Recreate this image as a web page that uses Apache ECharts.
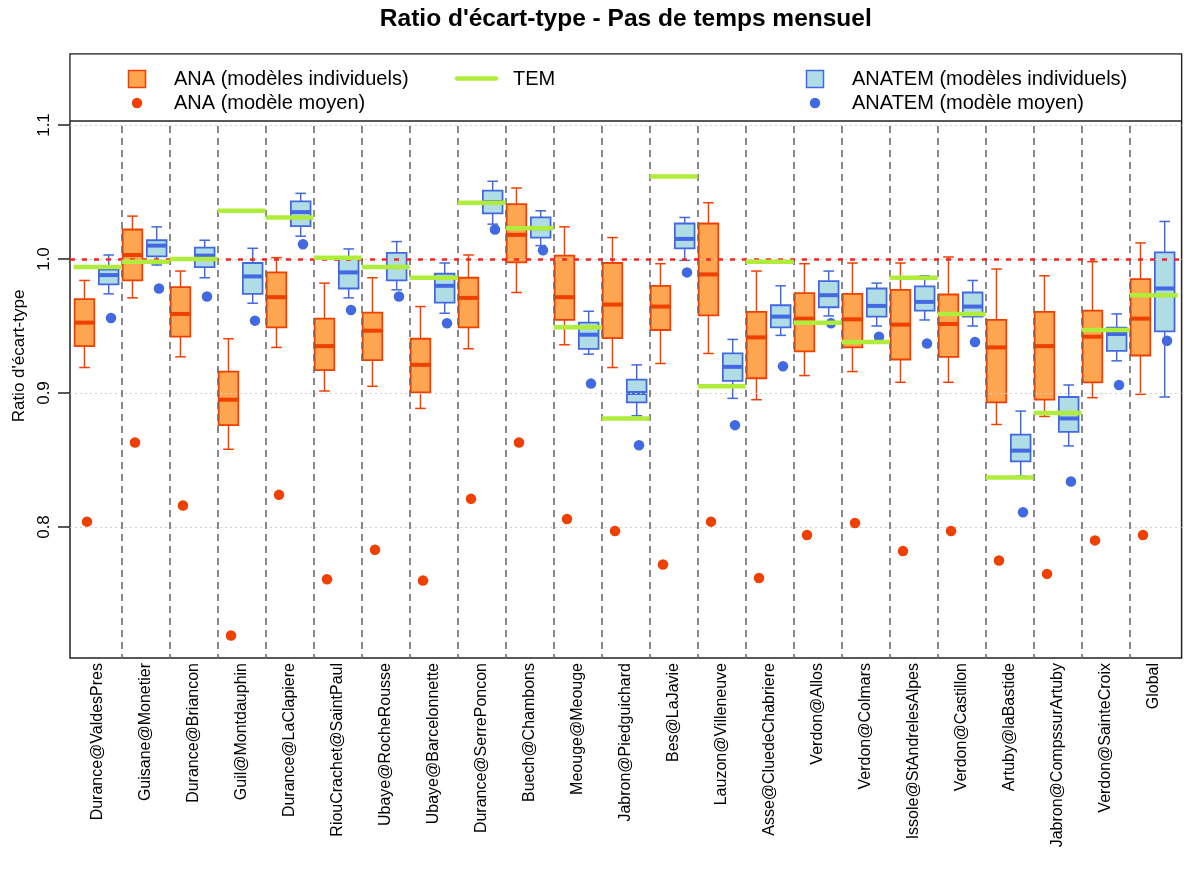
<!DOCTYPE html>
<html><head><meta charset="utf-8">
<script src="https://cdn.jsdelivr.net/npm/echarts@6/dist/echarts.min.js"></script>
<style>html,body{margin:0;padding:0;background:#fff}#chart{width:1184px;height:876px}</style>
</head><body><div id="chart"></div>
<script>
const categories = ["Durance@ValdesPres","Guisane@Monetier","Durance@Briancon","Guil@Montdauphin","Durance@LaClapiere","RiouCrachet@SaintPaul","Ubaye@RocheRousse","Ubaye@Barcelonnette","Durance@SerrePoncon","Buech@Chambons","Meouge@Meouge","Jabron@Piedguichard","Bes@LaJavie","Lauzon@Villeneuve","Asse@CluedeChabriere","Verdon@Allos","Verdon@Colmars","Issole@StAndrelesAlpes","Verdon@Castillon","Artuby@laBastide","Jabron@CompssurArtuby","Verdon@SainteCroix","Global"];

// ANA (modèles individuels) : min, Q1, médiane, Q3, max
const anaMin = [0.919,0.971,0.927,0.858,0.934,0.9015,0.905,0.8885,0.933,0.975,0.936,0.919,0.922,0.9295,0.895,0.913,0.916,0.908,0.908,0.8765,0.8825,0.8965,0.899];
const anaQ1  = [0.935,0.984,0.942,0.876,0.949,0.917,0.9245,0.9005,0.949,0.9975,0.9545,0.941,0.947,0.958,0.911,0.931,0.934,0.925,0.927,0.893,0.895,0.908,0.928];
const anaMed = [0.9525,1.003,0.959,0.895,0.9715,0.935,0.9465,0.921,0.971,1.018,0.9715,0.966,0.9645,0.9885,0.9415,0.9555,0.955,0.951,0.9515,0.934,0.935,0.942,0.9555];
const anaQ3  = [0.970,1.022,0.979,0.916,0.990,0.9555,0.960,0.9405,0.986,1.041,1.0025,0.997,0.980,1.0265,0.9605,0.9745,0.974,0.977,0.9735,0.9545,0.9605,0.9615,0.985];
const anaMax = [0.984,1.032,0.991,0.9405,1.001,0.982,0.986,0.9645,1.003,1.053,1.024,1.016,0.9965,1.042,0.991,0.9965,0.997,0.997,1.0015,0.9925,0.9875,0.998,1.012];

// ANATEM (modèles individuels)
const anatemMin = [0.974,0.9955,0.986,0.967,1.017,0.971,0.977,0.9595,1.026,1.010,0.929,0.883,0.999,0.896,0.943,0.9575,0.950,0.9545,0.950,0.838,0.8605,0.924,0.897];
const anatemQ1  = [0.981,1.002,0.994,0.974,1.0245,0.978,0.984,0.9675,1.034,1.016,0.933,0.893,1.008,0.909,0.949,0.964,0.957,0.9615,0.957,0.849,0.871,0.9315,0.946];
const anatemMed = [0.988,1.010,1.0025,0.987,1.035,0.990,0.994,0.980,1.0425,1.023,0.9435,0.900,1.015,0.9195,0.957,0.973,0.965,0.968,0.9645,0.857,0.881,0.944,0.978];
const anatemQ3  = [0.992,1.014,1.0085,0.997,1.043,1.0015,1.0045,0.989,1.051,1.031,0.9525,0.910,1.0265,0.9295,0.9655,0.9835,0.978,0.9795,0.975,0.869,0.897,0.9488,1.005];
const anatemMax = [1.003,1.024,1.014,1.008,1.049,1.0075,1.013,0.997,1.058,1.036,0.961,0.921,1.031,0.940,0.980,0.991,0.982,0.9875,0.984,0.8865,0.906,0.959,1.028];

// TEM
const temValues = [0.994,0.998,1.000,1.036,1.031,1.001,0.994,0.986,1.042,1.023,0.949,0.881,1.0615,0.905,0.998,0.9525,0.938,0.986,0.959,0.837,0.885,0.947,0.973];

// modèles moyens
const anaMean    = [0.804,0.863,0.816,0.719,0.824,0.761,0.783,0.760,0.821,0.863,0.806,0.797,0.772,0.804,0.762,0.794,0.803,0.782,0.797,0.775,0.765,0.790,0.794];
const anatemMean = [0.956,0.978,0.972,0.954,1.011,0.962,0.972,0.952,1.022,1.0065,0.907,0.861,0.990,0.876,0.920,0.952,0.942,0.937,0.938,0.811,0.834,0.906,0.939];

const yTicks = [0.8, 0.9, 1.0, 1.1];
const refValue = 1.0;

const ORANGE_FILL = '#FFA54F', ORANGE = '#F04000';
const BLUE_FILL = '#B0DCE6', BLUE = '#4169E1';
const GREEN = '#B0EC3A';
const FONT = '"Liberation Sans", Arial, sans-serif';

const BOX_W = 0.41;
const OFF_ANA = -0.275, OFF_ANATEM = 0.229;
const OFF_DOT_ANA = -0.223, OFF_DOT_ANATEM = 0.277;

const pos = categories.map((c, i) => i + 1);
const anaBoxes = pos.map((p, i) => [p, anaMin[i], anaQ1[i], anaMed[i], anaQ3[i], anaMax[i]]);
const anatemBoxes = pos.map((p, i) => [p, anatemMin[i], anatemQ1[i], anatemMed[i], anatemQ3[i], anatemMax[i]]);

function boxRender(offset, fill, stroke) {
  return function (params, api) {
    const x = api.value(0) + offset;
    const pMin = api.coord([x, api.value(1)]);
    const pQ1 = api.coord([x, api.value(2)]);
    const pMed = api.coord([x, api.value(3)]);
    const pQ3 = api.coord([x, api.value(4)]);
    const pMax = api.coord([x, api.value(5)]);
    const w = api.size([BOX_W, 0])[0];
    const cw = w * 0.54;
    const cx = pMed[0];
    const ls = { stroke: stroke, lineWidth: 1.5 };
    return {
      type: 'group',
      children: [
        { type: 'line', shape: { x1: cx, y1: pMax[1], x2: cx, y2: pQ3[1] }, style: ls },
        { type: 'line', shape: { x1: cx, y1: pQ1[1], x2: cx, y2: pMin[1] }, style: ls },
        { type: 'line', shape: { x1: cx - cw / 2, y1: pMax[1], x2: cx + cw / 2, y2: pMax[1] }, style: ls },
        { type: 'line', shape: { x1: cx - cw / 2, y1: pMin[1], x2: cx + cw / 2, y2: pMin[1] }, style: ls },
        { type: 'rect', shape: { x: cx - w / 2, y: pQ3[1], width: w, height: pQ1[1] - pQ3[1] }, style: { fill: fill, stroke: stroke, lineWidth: 1.8 } },
        { type: 'line', shape: { x1: cx - w / 2, y1: pMed[1], x2: cx + w / 2, y2: pMed[1] }, style: { stroke: stroke, lineWidth: 4 } }
      ]
    };
  };
}

function temRender(params, api) {
  const p = api.value(0);
  const a = api.coord([p - 0.5, api.value(1)]);
  const b = api.coord([p + 0.5, api.value(1)]);
  return { type: 'line', shape: { x1: a[0], y1: a[1], x2: b[0], y2: b[1] }, style: { stroke: GREEN, lineWidth: 4.5 } };
}

const chart = echarts.init(document.getElementById('chart'), null, { renderer: 'canvas' });

const GL = 70, GR = 1181.6, GT = 54, GB = 658, LEG_B = 121;
const legendText = (x, y, t) => ({ type: 'text', x: x, y: y, style: { text: t, font: '20px ' + FONT, fill: '#000', textVerticalAlign: 'middle', textAlign: 'left' }, z: 100 });

chart.setOption({
  animation: false,
  backgroundColor: '#fff',
  grid: { left: GL, right: 1184 - GR, top: GT, bottom: 876 - GB, show: true, borderColor: '#222', borderWidth: 1.5, backgroundColor: 'transparent', containLabel: false, outerBoundsMode: 'none' },
  xAxis: {
    type: 'value', min: 0.5 - 3.7 / 48, max: 23.5 + 3.9 / 48, z: 3,
    axisLine: { show: false },
    axisTick: { show: false, customValues: categories.slice(1).map((c, i) => i + 1.5) },
    axisLabel: { customValues: pos, rotate: 90, fontSize: 16, fontFamily: FONT, color: '#000', margin: 5,
      formatter: v => categories[Math.round(v) - 1] },
    splitLine: { show: true, lineStyle: { color: '#6a6a6a', type: [7, 5], width: 1.6 } }
  },
  yAxis: {
    type: 'value', min: 1.0 - 399 / 1340, max: 1.0 + 205 / 1340, z: 3,
    name: "Ratio d'écart-type", nameLocation: 'middle', nameGap: 33,
    nameTextStyle: { fontSize: 17, fontFamily: FONT, color: '#000' },
    axisLine: { show: false },
    axisTick: { show: true, length: 12, customValues: yTicks, lineStyle: { color: '#222', width: 1.5 } },
    axisLabel: { customValues: yTicks, rotate: 90, fontSize: 17, fontFamily: FONT, color: '#000', margin: 17,
      formatter: v => v.toFixed(1) },
    splitLine: { show: true, lineStyle: { color: '#cfcfcf', type: [2, 3], width: 1.2 } }
  },
  series: [
    { name: 'ANA (modèles individuels)', type: 'custom', renderItem: boxRender(OFF_ANA, ORANGE_FILL, ORANGE), data: anaBoxes, encode: { x: 0, y: [1, 2, 3, 4, 5] }, z: 2, silent: true },
    { name: 'ANATEM (modèles individuels)', type: 'custom', renderItem: boxRender(OFF_ANATEM, BLUE_FILL, BLUE), data: anatemBoxes, encode: { x: 0, y: [1, 2, 3, 4, 5] }, z: 2, silent: true },
    { name: 'ANA (modèle moyen)', type: 'scatter', data: pos.map((p, i) => [p + OFF_DOT_ANA, anaMean[i]]), symbol: 'circle', symbolSize: 10.5, itemStyle: { color: ORANGE, opacity: 1 }, z: 4, silent: true,
      markLine: { silent: true, symbol: ['none', 'none'], label: { show: false }, lineStyle: { color: '#FF2020', type: [5, 7], width: 2.5, opacity: 1 }, data: [{ yAxis: refValue }] } },
    { name: 'ANATEM (modèle moyen)', type: 'scatter', data: pos.map((p, i) => [p + OFF_DOT_ANATEM, anatemMean[i]]), symbol: 'circle', symbolSize: 10.5, itemStyle: { color: BLUE, opacity: 1 }, z: 4, silent: true },
    { name: 'TEM', type: 'custom', renderItem: temRender, data: pos.map((p, i) => [p, temValues[i]]), encode: { x: 0, y: 1 }, z: 5, silent: true }
  ],
  graphic: [
    { type: 'text', x: (GL + GR) / 2, y: 19, style: { text: "Ratio d'écart-type - Pas de temps mensuel", font: 'bold 24.5px ' + FONT, fill: '#000', textAlign: 'center', textVerticalAlign: 'middle' }, z: 100 },
    { type: 'rect', shape: { x: GL + 0.8, y: GT + 0.8, width: GR - GL - 1.6, height: LEG_B - GT - 0.8 }, style: { fill: '#fff' }, z: 90 },
    { type: 'line', shape: { x1: GL, y1: LEG_B, x2: GR, y2: LEG_B }, style: { stroke: '#222', lineWidth: 1.5 }, z: 100 },
    { type: 'rect', shape: { x: 128.5, y: 70.5, width: 17, height: 17 }, style: { fill: ORANGE_FILL, stroke: ORANGE, lineWidth: 1.5 }, z: 100 },
    legendText(174, 79, 'ANA (modèles individuels)'),
    { type: 'circle', shape: { cx: 137, cy: 103, r: 5.2 }, style: { fill: ORANGE }, z: 100 },
    legendText(174, 103, 'ANA (modèle moyen)'),
    { type: 'line', shape: { x1: 457, y1: 78.5, x2: 496, y2: 78.5 }, style: { stroke: GREEN, lineWidth: 4.5, lineCap: 'round' }, z: 100 },
    legendText(513, 79, 'TEM'),
    { type: 'rect', shape: { x: 806.5, y: 70.5, width: 17, height: 17 }, style: { fill: BLUE_FILL, stroke: BLUE, lineWidth: 1.5 }, z: 100 },
    legendText(852, 79, 'ANATEM (modèles individuels)'),
    { type: 'circle', shape: { cx: 815, cy: 103, r: 5.2 }, style: { fill: BLUE }, z: 100 },
    legendText(852, 103, 'ANATEM (modèle moyen)')
  ]
});
</script>
</body></html>
